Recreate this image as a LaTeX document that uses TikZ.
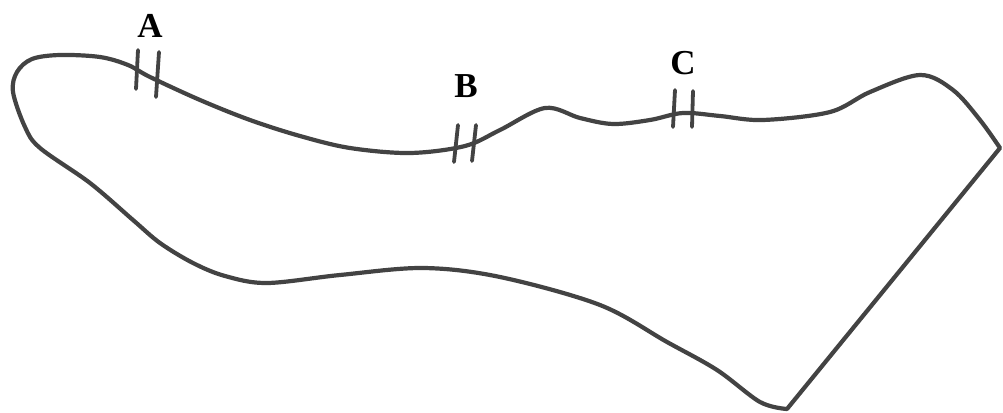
\documentclass[tikz,border=0pt]{standalone}
\usepackage{fontspec}
\setmainfont{Liberation Serif}
\usepackage{tikz}
\usepackage{xcolor}
\definecolor{penink}{HTML}{434343}
\tikzset{
  outline/.style={draw=penink,line width=4.2pt,line join=round,line cap=round},
  tickline/.style={draw=penink,line width=3.8pt,line cap=round},
  ptlabel/.style={inner sep=0pt,font=\fontsize{35}{37}\selectfont\bfseries}
}

\begin{document}
\begin{tikzpicture}[x=1pt,y=-1pt]
\useasboundingbox (0,0) rectangle (1003,412);
\draw[outline] plot[smooth,tension=0.55] coordinates {
(1000,148) (980,120) (953,90) (920,75) (870,92) (830,112) (763,120)
(720,116) (683,113) (650,120) (613,124) (580,118) (545,108) (500,130)
(465,146) (410,153) (350,148) (300,136) (250,120) (200,100) (150,77)
(128,65) (100,57) (60,55) (32,59) (17,72) (13,92) (25,127) (40,148)
(90,183) (133,220) (160,243) (193,263) (225,276) (267,283)
(340,275) (423,268) (500,277) (600,305) (667,342) (717,370) (760,402)
(787,409)} -- cycle;
% double ticks
\draw[tickline] (138,50) -- (136,89) (159,52) -- (156,97);
\draw[tickline] (458,125) -- (454,162) (476,125) -- (472,161);
\draw[tickline] (675,90) -- (673,127) (693,91) -- (692,127);
\node[ptlabel] (labA) at (150,26) {A};
\node[ptlabel] (labB) at (466,86) {B};
\node[ptlabel] (labC) at (683,63) {C};
\end{tikzpicture}
\end{document}
